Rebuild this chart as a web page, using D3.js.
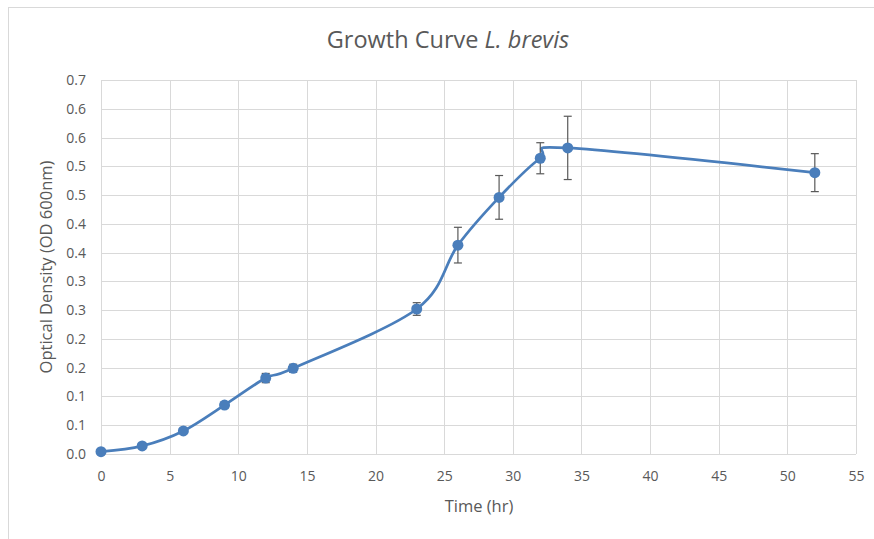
<!DOCTYPE html>
<html>
<head>
<meta charset="utf-8">
<script src="https://cdn.jsdelivr.net/npm/d3@7"></script>
<style>
  html, body { margin: 0; padding: 0; background: #fff; }
  svg { display: block; font-family: "Open Sans", "Noto Sans", sans-serif; }
</style>
</head>
<body>
<svg id="chart" width="874" height="539"></svg>
<script>
// Sampling times (hr)
const times = [0, 3, 6, 9, 12, 14, 23, 26, 29, 32, 34, 52];
// Mean optical density at 600 nm
const od = [0.004, 0.014, 0.040, 0.085, 0.132, 0.149, 0.252, 0.363, 0.446, 0.514, 0.532, 0.489];
// Standard deviation for each sample
const sd = [0.002, 0.003, 0.004, 0.005, 0.008, 0.007, 0.011, 0.031, 0.038, 0.027, 0.055, 0.033];

// Axis ticks and the labels shown beside them
const xTicks = [0, 5, 10, 15, 20, 25, 30, 35, 40, 45, 50, 55];
const yTicks = [0, 0.05, 0.1, 0.15, 0.2, 0.25, 0.3, 0.35, 0.4, 0.45, 0.5, 0.55, 0.6, 0.65];
const yTickLabels = ["0.0", "0.1", "0.1", "0.2", "0.2", "0.3", "0.3", "0.4", "0.4", "0.5", "0.5", "0.6", "0.6", "0.7"];

const svg = d3.select("#chart");
const plot = { left: 101, right: 856, top: 80, bottom: 454 };
const textColor = "#595959";
const gridColor = "#d9d9d9";
const seriesColor = "#4a7ebb";

// Outer chart frame
svg.append("rect")
  .attr("x", 8.5).attr("y", 7.5)
  .attr("width", 900).attr("height", 600)
  .attr("fill", "#fff").attr("stroke", gridColor).attr("stroke-width", 1);

const x = d3.scaleLinear().domain([0, 55]).range([plot.left, plot.right]);
const y = d3.scaleLinear().domain([0, 0.65]).range([plot.bottom, plot.top]);

// Gridlines
svg.append("g")
  .selectAll("line.h").data(yTicks).join("line")
  .attr("x1", plot.left).attr("x2", plot.right)
  .attr("y1", d => Math.round(y(d)) + 0.5).attr("y2", d => Math.round(y(d)) + 0.5)
  .attr("stroke", gridColor).attr("stroke-width", 1);
svg.append("g")
  .selectAll("line.v").data(xTicks).join("line")
  .attr("y1", plot.top).attr("y2", plot.bottom)
  .attr("x1", d => Math.round(x(d)) + 0.5).attr("x2", d => Math.round(x(d)) + 0.5)
  .attr("stroke", gridColor).attr("stroke-width", 1);

// X axis labels
const xAxis = d3.axisBottom(x).tickValues(xTicks).tickSize(0).tickPadding(17);
const gx = svg.append("g").attr("transform", `translate(0,${plot.bottom})`).call(xAxis);
gx.select(".domain").remove();
gx.selectAll("text").attr("fill", textColor).style("font-size", "14px")
  .style("font-family", "'Open Sans', sans-serif");

// Y axis labels
const yAxis = d3.axisLeft(y).tickValues(yTicks).tickSize(0).tickPadding(15)
  .tickFormat((d, i) => yTickLabels[i]);
const gy = svg.append("g").attr("transform", `translate(${plot.left},0)`).call(yAxis);
gy.select(".domain").remove();
gy.selectAll("text").attr("fill", textColor).style("font-size", "14px")
  .style("font-family", "'Open Sans', sans-serif");

// Title
const title = svg.append("text")
  .attr("x", 448).attr("y", 48)
  .attr("text-anchor", "middle")
  .attr("fill", textColor)
  .style("font-size", "23.5px");
title.append("tspan").text("Growth Curve ");
title.append("tspan").style("font-style", "italic").text("L. brevis");

// Axis titles
svg.append("text")
  .attr("x", 479).attr("y", 512)
  .attr("text-anchor", "middle")
  .attr("fill", textColor)
  .style("font-size", "16.5px")
  .text("Time (hr)");
svg.append("text")
  .attr("transform", `translate(52,267) rotate(-90)`)
  .attr("text-anchor", "middle")
  .attr("fill", textColor)
  .style("font-size", "16.5px")
  .text("Optical Density (OD 600nm)");

const data = times.map((t, i) => ({ t, v: od[i], e: sd[i] }));

// Smoothed growth curve
const line = d3.line()
  .x(d => x(d.t)).y(d => y(d.v))
  .curve(d3.curveCardinal.tension(0));
svg.append("path")
  .datum(data)
  .attr("d", line)
  .attr("fill", "none")
  .attr("stroke", seriesColor)
  .attr("stroke-width", 2.75)
  .attr("stroke-linejoin", "round");

// Error bars
const errColor = "#595959";
const cap = 4;
const eb = svg.append("g").attr("stroke", errColor).attr("stroke-width", 1.2);
eb.selectAll("line.stem").data(data).join("line")
  .attr("x1", d => x(d.t)).attr("x2", d => x(d.t))
  .attr("y1", d => y(d.v - d.e)).attr("y2", d => y(d.v + d.e));
eb.selectAll("line.top").data(data).join("line")
  .attr("x1", d => x(d.t) - cap).attr("x2", d => x(d.t) + cap)
  .attr("y1", d => y(d.v + d.e)).attr("y2", d => y(d.v + d.e));
eb.selectAll("line.bot").data(data).join("line")
  .attr("x1", d => x(d.t) - cap).attr("x2", d => x(d.t) + cap)
  .attr("y1", d => y(d.v - d.e)).attr("y2", d => y(d.v - d.e));

// Markers
svg.append("g").selectAll("circle").data(data).join("circle")
  .attr("cx", d => x(d.t)).attr("cy", d => y(d.v))
  .attr("r", 5.5)
  .attr("fill", seriesColor);
</script>
</body>
</html>
